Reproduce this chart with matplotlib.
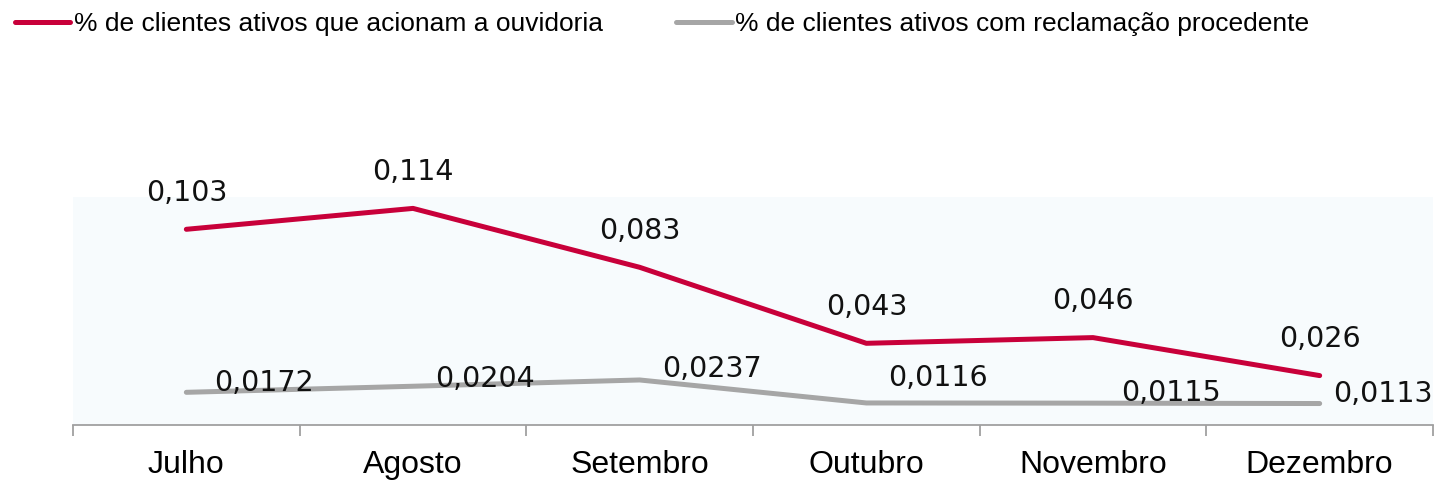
import matplotlib
matplotlib.use("Agg")
import matplotlib.pyplot as plt
import numpy as np

months = ["Julho", "Agosto", "Setembro", "Outubro", "Novembro", "Dezembro"]
ouvidoria = [0.103, 0.114, 0.083, 0.043, 0.046, 0.026]
procedente = [0.0172, 0.0204, 0.0237, 0.0116, 0.0115, 0.0113]
ouvidoria_labels = ["0,103", "0,114", "0,083", "0,043", "0,046", "0,026"]
procedente_labels = ["0,0172", "0,0204", "0,0237", "0,0116", "0,0115", "0,0113"]
series_names = ["% de clientes ativos que acionam a ouvidoria",
                "% de clientes ativos com reclamação procedente"]

# label offsets (points) for the gray series labels
gray_off = [(20, 7), (16, 5), (16, 8), (16, 18), (20, 7), (10, 7)]

RED = "#C8003A"
GRAY = "#A6A6A6"

fig = plt.figure(figsize=(14.38, 4.8), dpi=100)
ax = fig.add_axes([73/1438, 1-425/480, (1433-73)/1438, (425-197)/480])
ax.set_facecolor("#F7FBFD")

x = np.arange(len(months))
l1, = ax.plot(x, ouvidoria, color=RED, lw=3.6, solid_capstyle="round")
l2, = ax.plot(x, procedente, color=GRAY, lw=3.6, solid_capstyle="round")

lab_font = dict(family="DejaVu Sans", fontsize=20.5, color="#111111")
for xi, v, t in zip(x, ouvidoria, ouvidoria_labels):
    ax.annotate(t, (xi, v), xytext=(0, 26), textcoords="offset points",
                ha="center", va="center", **lab_font)
for xi, v, t, off in zip(x, procedente, procedente_labels, gray_off):
    ax.annotate(t, (xi, v), xytext=off, textcoords="offset points",
                ha="left", va="center", **lab_font)

ax.set_xlim(-0.5, len(months) - 0.5)
ax.set_ylim(0, 0.12)
ax.set_yticks([])
for s in ["top", "right", "left"]:
    ax.spines[s].set_visible(False)
ax.spines["bottom"].set_color("#A0A0A0")
ax.spines["bottom"].set_linewidth(1.3)

ax.set_xticks(x)
ax.set_xticklabels(months, fontsize=23, family="Liberation Sans", color="#000000")
ax.tick_params(axis="x", which="major", length=0, pad=18)
ax.set_xticks(np.arange(-0.5, len(months)), minor=True)
ax.tick_params(axis="x", which="minor", length=8, width=1.3, color="#A0A0A0")

fig.legend([l1, l2], series_names, loc="upper left",
           bbox_to_anchor=(15/1438, 1 - 12/480), ncol=2, frameon=False,
           prop=dict(family="Liberation Sans", size=19),
           handlelength=2.1, handletextpad=0.12, columnspacing=2.8,
           borderpad=0, borderaxespad=0)

fig.savefig("out.png", dpi=100, facecolor="white")
